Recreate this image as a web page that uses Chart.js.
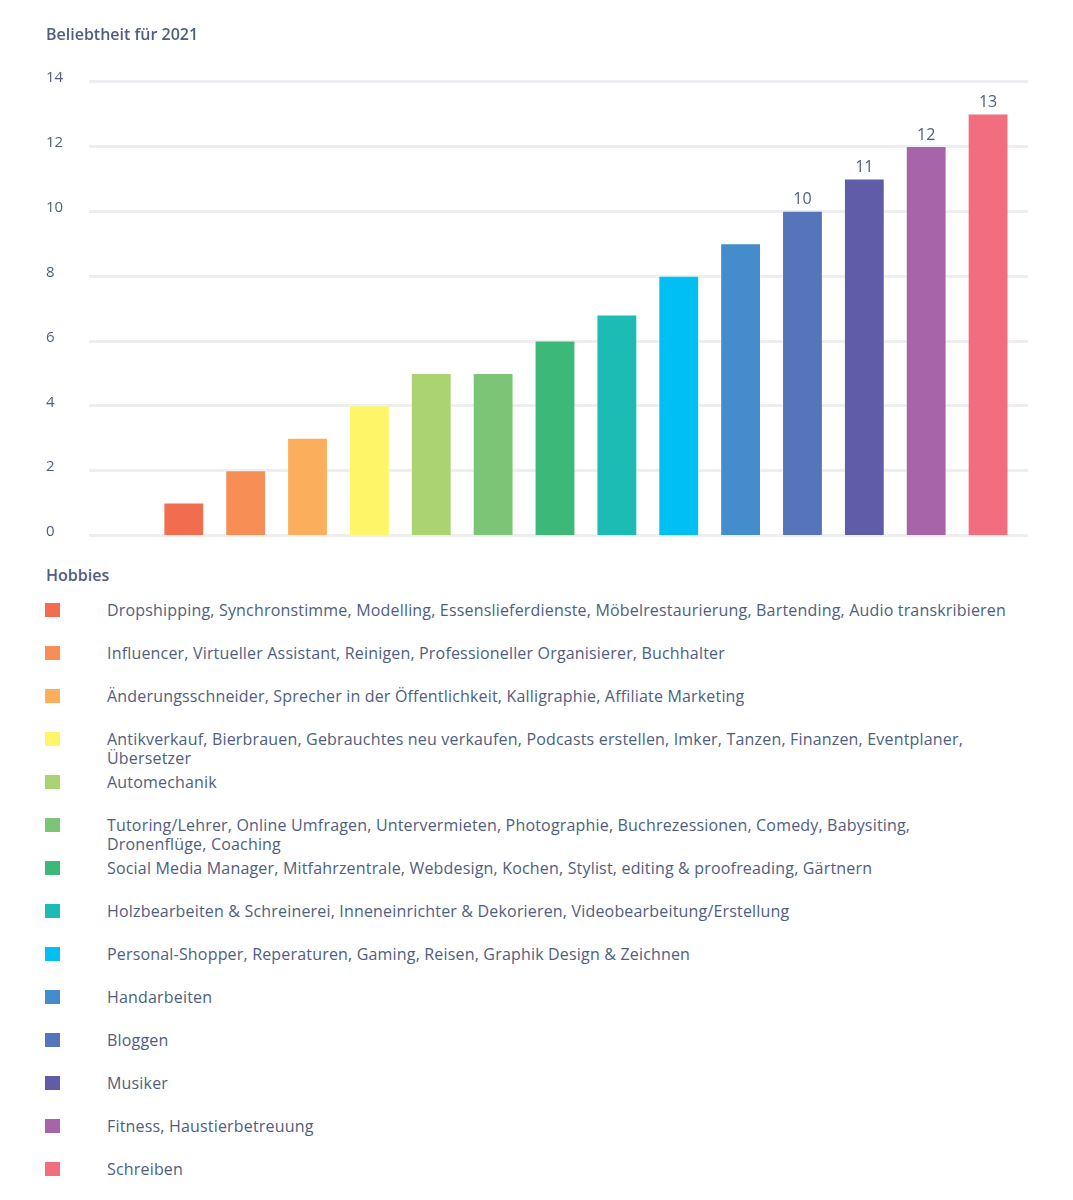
<!DOCTYPE html>
<html lang="de">
<head>
<meta charset="utf-8">
<title>Beliebtheit für 2021</title>
<script src="https://cdn.jsdelivr.net/npm/chart.js@4.4.1/dist/chart.umd.min.js"></script>
<style>
  body { margin: 0; background: #fff; font-family: 'Open Sans', sans-serif; color: #4f5e80; }
  .chart-box { position: relative; width: 1073px; height: 545px; }
  .legend { position: relative; width: 1073px; }
  .legend h3 { margin: 0; position: absolute; left: 46px; top: 20px; font-size: 16px; font-weight: 600; line-height: 20px; }
  .legend .row { position: absolute; left: 0; height: 43px; width: 1073px; }
  .legend .sw { position: absolute; left: 45px; top: 0; width: 15px; height: 14px; }
  .legend .txt { position: absolute; left: 107px; top: -2px; font-size: 16px; line-height: 19px; letter-spacing: 0.18px; white-space: pre-line; }
</style>
</head>
<body>
<div class="chart-box"><canvas id="hobby-chart"></canvas></div>
<div class="legend" id="hobby-legend"></div>
<script>
const hobbies = [
  'Dropshipping, Synchronstimme, Modelling, Essenslieferdienste, Möbelrestaurierung, Bartending, Audio transkribieren',
  'Influencer, Virtueller Assistant, Reinigen, Professioneller Organisierer, Buchhalter',
  'Änderungsschneider, Sprecher in der Öffentlichkeit, Kalligraphie, Affiliate Marketing',
  'Antikverkauf, Bierbrauen, Gebrauchtes neu verkaufen, Podcasts erstellen, Imker, Tanzen, Finanzen, Eventplaner,\nÜbersetzer',
  'Automechanik',
  'Tutoring/Lehrer, Online Umfragen, Untervermieten, Photographie, Buchrezessionen, Comedy, Babysiting,\nDronenflüge, Coaching',
  'Social Media Manager, Mitfahrzentrale, Webdesign, Kochen, Stylist, editing & proofreading, Gärtnern',
  'Holzbearbeiten & Schreinerei, Inneneinrichter & Dekorieren, Videobearbeitung/Erstellung',
  'Personal-Shopper, Reperaturen, Gaming, Reisen, Graphik Design & Zeichnen',
  'Handarbeiten',
  'Bloggen',
  'Musiker',
  'Fitness, Haustierbetreuung',
  'Schreiben',
];
const popularity = [1, 2, 3, 4, 5, 5, 6, 6.8, 8, 9, 10, 11, 12, 13];
const barLabels = [null, null, null, null, null, null, null, null, null, null, '10', '11', '12', '13'];
const colors = [
  '#f26c4f', '#f68e56', '#fbaf5c', '#fff568', '#acd372', '#7cc576', '#3cb878',
  '#1cbbb4', '#00bff3', '#448ccb', '#5574b9', '#605ca8', '#a864a8', '#f26d7d',
];
const yTicks = [0, 2, 4, 6, 8, 10, 12, 14];

const textColor = '#4f5e80';
const gridColor = '#edeef2';

// leading empty slot, like in the original chart
const labels = [''].concat(hobbies.map((h, i) => 'H' + (i + 1)));
const values = [null].concat(popularity);

const gridPlugin = {
  id: 'wideGrid',
  beforeDatasetsDraw(chart) {
    const { ctx, chartArea, scales } = chart;
    ctx.save();
    ctx.strokeStyle = gridColor;
    ctx.lineWidth = 3;
    yTicks.forEach((t) => {
      const y = Math.round(scales.y.getPixelForValue(t)) + 0.5;
      ctx.beginPath();
      ctx.moveTo(chartArea.left - 2, y);
      ctx.lineTo(chartArea.right + 9, y);
      ctx.stroke();
    });
    ctx.restore();
  },
};

const barLabelPlugin = {
  id: 'barLabels',
  afterDatasetsDraw(chart) {
    const { ctx } = chart;
    const meta = chart.getDatasetMeta(0);
    ctx.save();
    ctx.fillStyle = textColor;
    ctx.font = '16px "Open Sans"';
    ctx.textAlign = 'center';
    ctx.textBaseline = 'bottom';
    barLabels.forEach((lbl, i) => {
      if (!lbl) return;
      const bar = meta.data[i + 1];
      ctx.fillText(lbl, bar.x, bar.y - 3);
    });
    ctx.restore();
  },
};

const ctx = document.getElementById('hobby-chart').getContext('2d');

new Chart(ctx, {
  type: 'bar',
  data: {
    labels: labels,
    datasets: [
      {
        data: values,
        backgroundColor: [null].concat(colors),
        borderColor: 'rgba(255, 255, 255, 0.35)',
        borderWidth: 1,
        barPercentage: 0.66,
        categoryPercentage: 1,
      },
    ],
  },
  options: {
    responsive: true,
    maintainAspectRatio: false,
    animation: false,
    layout: {
      padding: { left: 46, right: 54, top: 0, bottom: 10 },
    },
    plugins: {
      legend: { display: false },
      tooltip: { enabled: false },
      title: {
        display: true,
        text: 'Beliebtheit für 2021',
        align: 'start',
        color: textColor,
        font: { size: 16, weight: '600', family: 'Open Sans' },
        padding: { top: 26, bottom: 36 },
      },
    },
    scales: {
      x: {
        display: false,
      },
      y: {
        min: 0,
        max: 14,
        afterFit: (scale) => { scale.width = 45; },
        afterBuildTicks: (scale) => { scale.ticks = yTicks.map((v) => ({ value: v })); },
        ticks: {
          color: textColor,
          font: { size: 15, family: 'Open Sans' },
          crossAlign: 'far',
          labelOffset: -3,
          padding: 0,
        },
        grid: { display: false },
        border: { display: false },
      },
    },
  },
  plugins: [gridPlugin, barLabelPlugin],
});

// legend below the chart
const legendEl = document.getElementById('hobby-legend');
legendEl.style.height = '655px';
const head = document.createElement('h3');
head.textContent = 'Hobbies';
legendEl.appendChild(head);
hobbies.forEach((h, i) => {
  const row = document.createElement('div');
  row.className = 'row';
  row.style.top = (58 + i * 43) + 'px';
  const sw = document.createElement('span');
  sw.className = 'sw';
  sw.style.background = colors[i];
  const txt = document.createElement('span');
  txt.className = 'txt';
  txt.textContent = h;
  row.appendChild(sw);
  row.appendChild(txt);
  legendEl.appendChild(row);
});
</script>
</body>
</html>
